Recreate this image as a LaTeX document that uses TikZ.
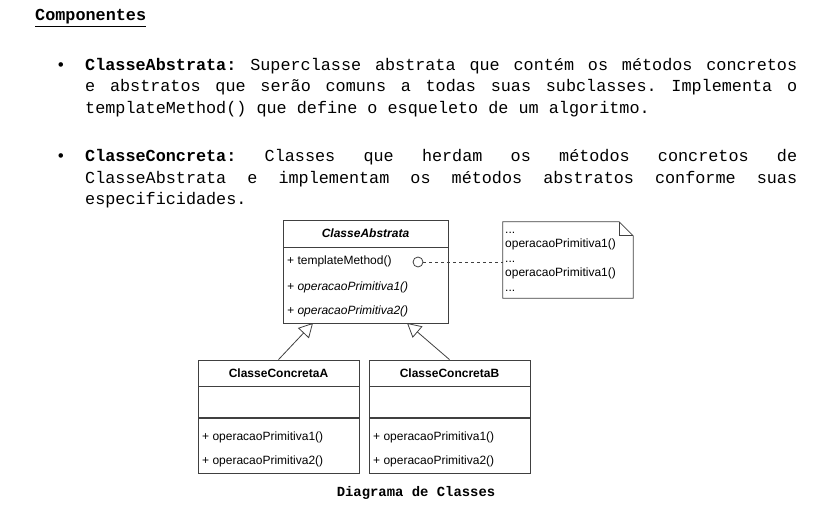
\documentclass[tikz,border=0pt]{standalone}
\usepackage{fontspec}
\newfontfamily\monotext{Liberation Mono}
\newfontfamily\umltext{Liberation Sans}
\usetikzlibrary{arrows.meta}
\usetikzlibrary{calc}
\newcommand\jline[1]{\hbox to 712pt{\frenchspacing\spaceskip=10.08pt plus 1fil\relax #1}}

\begin{document}
\begin{tikzpicture}[x=1pt, y=-1pt,
    prose/.style={anchor=base west, inner sep=0pt, align=left, font=\monotext\fontsize{16.8}{21.5}\selectfont},
    umlbox/.style={draw=black!75, line width=0.8pt, inner sep=0pt, font=\umltext\fontsize{12}{14.5}\selectfont},
    member/.style={anchor=base west, inner sep=0pt, align=left, font=\umltext\fontsize{12}{14.5}\selectfont},
    inherit/.style={draw=black!75, line width=0.8pt, -{Triangle[open, length=14pt, width=15pt]}}]
      \useasboundingbox (0,0) rectangle (834,513);

      % texto (base = ultima linha)
      \node[prose, font=\monotext\bfseries\fontsize{16.8}{21.5}\selectfont] (title) at (35, 21) {\underline{Componentes}};
      \node[prose, anchor=base] (dot1) at (61, 70.5) {•};
      \node[prose] (par1) at (85, 113.5) {\jline{\textbf{ClasseAbstrata:} Superclasse abstrata que contém os métodos concretos}\\
        \jline{e abstratos que serão comuns a todas suas subclasses. Implementa o}\\
        templateMethod() que define o esqueleto de um algoritmo.};
      \node[prose, anchor=base] (dot2) at (61, 161.5) {•};
      \node[prose] (par2) at (85, 204.5) {\jline{\textbf{ClasseConcreta:} Classes que herdam os métodos concretos de}\\
        \jline{ClasseAbstrata e implementam os métodos abstratos conforme suas}\\
        especificidades.};

      % classe abstrata
      \node[umlbox, minimum width=165pt, minimum height=27pt] (abs) at (365.5, 233.5) {\textbf{\textit{ClasseAbstrata}}};
      \node[umlbox, minimum width=165pt, minimum height=76pt, anchor=north] (absops) at (abs.south) {};
      \node[member] (tm) at (287, 264) {+ templateMethod()};
      \node[member] (absop1) at (287, 290) {\textit{+ operacaoPrimitiva1()}};
      \node[member] (absop2) at (287, 314) {\textit{+ operacaoPrimitiva2()}};
      \node[circle, draw=black!75, line width=0.8pt, fill=white, minimum size=10pt, inner sep=0pt] (hook) at (418, 262) {};

      % nota
      \node[inner sep=0pt, minimum width=130pt, minimum height=76pt] (note) at (568, 260) {};
      \draw[draw=black!75, line width=0.8pt] (note.north west) -- ($(note.north east)+(-14,0)$) -- ($(note.north east)+(0,14)$)
        -- (note.south east) -- (note.south west) -- cycle;
      \draw[draw=black!75, line width=0.8pt] ($(note.north east)+(-14,0)$) -- ($(note.north east)+(-14,14)$) -- ($(note.north east)+(0,14)$);
      \node[member] (notetext) at (505, 291) {...\\operacaoPrimitiva1()\\...\\operacaoPrimitiva1()\\...};
      \draw[draw=black!75, line width=0.8pt, dashed] (hook.east) -- (hook -| note.west);

      % classes concretas
      \node[umlbox, minimum width=161pt, minimum height=26pt] (concA) at (278.5, 373) {\textbf{ClasseConcretaA}};
      \node[umlbox, minimum width=161pt, minimum height=31pt, anchor=north] (concAattr) at (concA.south) {};
      \node[umlbox, minimum width=161pt, minimum height=55pt, anchor=north] (concAops) at (concAattr.south) {};
      \node[member] (aop1) at (202, 440) {+ operacaoPrimitiva1()};
      \node[member] (aop2) at (202, 464) {+ operacaoPrimitiva2()};

      \node[umlbox, minimum width=161pt, minimum height=26pt] (concB) at (449.5, 373) {\textbf{ClasseConcretaB}};
      \node[umlbox, minimum width=161pt, minimum height=31pt, anchor=north] (concBattr) at (concB.south) {};
      \node[umlbox, minimum width=161pt, minimum height=55pt, anchor=north] (concBops) at (concBattr.south) {};
      \node[member] (bop1) at (373, 440) {+ operacaoPrimitiva1()};
      \node[member] (bop2) at (373, 464) {+ operacaoPrimitiva2()};

      \coordinate (absA) at (313, 323);
      \coordinate (absB) at (407, 323);
      \draw[inherit] (concA.north) -- (absA);
      \draw[inherit] (concB.north) -- (absB);

      \node[anchor=base, inner sep=0pt, font=\monotext\bfseries\fontsize{13.9}{16}\selectfont] (caption) at (416, 496) {Diagrama de Classes};
\end{tikzpicture}
\end{document}
